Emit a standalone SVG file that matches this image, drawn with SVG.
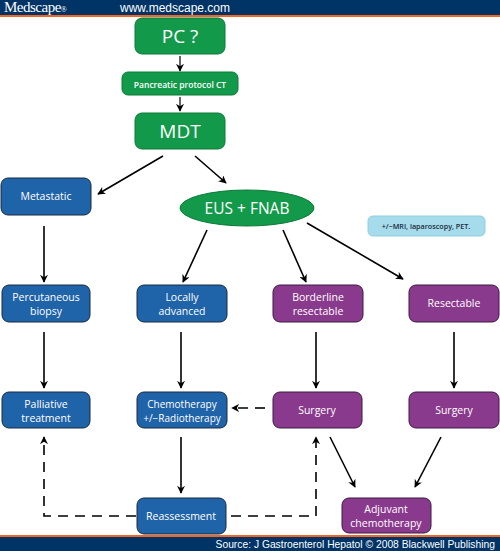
<svg xmlns="http://www.w3.org/2000/svg" width="500" height="551" viewBox="0 0 500 551">
<defs>
<style>
.t{font-family:"Open Sans","Noto Sans",sans-serif;fill:#fff;text-anchor:middle}
.g{fill:#129a4a;stroke:#0e7a3a;stroke-width:1}
.b{fill:#1f63a8;stroke:#1a2a40;stroke-width:1}
.p{fill:#8a3a8c;stroke:#3a1a40;stroke-width:1}
.s{stroke:#000;stroke-width:1.6;fill:none;marker-end:url(#ah)}
.d{stroke:#000;stroke-width:1.6;fill:none;stroke-dasharray:10,7;marker-end:url(#ah)}
.sm{stroke:#000;stroke-width:1.2;fill:none;marker-end:url(#ahs)}
</style>
<marker id="ah" viewBox="0 0 10 10" refX="9" refY="5" markerWidth="8" markerHeight="8" orient="auto" markerUnits="userSpaceOnUse">
<path d="M0,0 L10,5 L0,10 L3,5 z" fill="#000"/>
</marker>
<marker id="ahs" viewBox="0 0 10 10" refX="9" refY="5" markerWidth="8" markerHeight="8" orient="auto" markerUnits="userSpaceOnUse">
<path d="M0,0 L10,5 L0,10 L3,5 z" fill="#000"/>
</marker>
</defs>
<rect width="500" height="551" fill="#fff"/>
<g id="header">
<rect x="0" y="0" width="500" height="15" fill="#003366"/>
<rect x="0" y="15" width="500" height="2" fill="#f26522"/>
<text x="4" y="12" font-family="Liberation Serif,serif" font-size="15" fill="#fff" letter-spacing="-0.5">Medscape<tspan font-size="8">®</tspan></text>
<text x="120" y="12" font-family="Liberation Sans,Arial,sans-serif" font-size="12" fill="#fff">www.medscape.com</text>
</g>
<g id="footer">
<rect x="0" y="535" width="500" height="2" fill="#f26522"/>
<rect x="0" y="537" width="500" height="14" fill="#003366"/>
<text x="495" y="548" font-family="Liberation Sans,Arial,sans-serif" font-size="10.3" fill="#fff" text-anchor="end">Source: J Gastroenterol Hepatol © 2008 Blackwell Publishing</text>
</g>
<g id="connectors">
<line class="sm" x1="180" y1="56" x2="180" y2="71"/>
<line class="sm" x1="180" y1="97" x2="180" y2="111"/>
<line class="s" x1="163" y1="156" x2="98" y2="194"/>
<line class="s" x1="195" y1="156" x2="226" y2="183"/>
<line class="s" x1="44" y1="226" x2="44" y2="282"/>
<line class="s" x1="207" y1="230" x2="183" y2="282"/>
<line class="s" x1="283" y1="230" x2="306" y2="282"/>
<line class="s" x1="307" y1="223" x2="403" y2="279"/>
<line class="s" x1="44" y1="332" x2="44" y2="388"/>
<line class="s" x1="181" y1="332" x2="181" y2="388"/>
<line class="s" x1="316" y1="332" x2="316" y2="388"/>
<line class="s" x1="454" y1="332" x2="454" y2="388"/>
<line class="d" x1="265" y1="408" x2="232" y2="408" stroke-dasharray="6,5"/>
<line class="s" x1="181" y1="437" x2="181" y2="493"/>
<polyline class="d" points="136,516 44,516 44,437"/>
<polyline class="d" points="231,516 316,516 316,437"/>
<line class="s" x1="330" y1="437" x2="355" y2="487"/>
<line class="s" x1="441" y1="437" x2="415" y2="487"/>
</g>
<g id="pc"><rect class="g" x="135" y="18" width="90" height="36" rx="7"/><text class="t" x="180" y="43" font-size="19">PC ?</text></g>
<g id="ct"><rect class="g" x="122" y="72" width="116" height="23" rx="6"/><text class="t" x="180" y="87.5" font-size="8.5" font-weight="600">Pancreatic protocol CT</text></g>
<g id="mdt"><rect class="g" x="135" y="113" width="90" height="36" rx="7"/><text class="t" x="180" y="138" font-size="19">MDT</text></g>
<g id="metastatic"><rect class="b" x="1" y="178" width="90" height="37" rx="7"/><text class="t" x="46" y="200" font-size="10.5">Metastatic</text></g>
<g id="eus"><ellipse cx="247" cy="208" rx="67" ry="18" fill="#129a4a" stroke="#0e7a3a"/><text class="t" x="247" y="214" font-size="15.5">EUS + FNAB</text></g>
<g id="note"><rect x="368" y="216" width="117" height="20" rx="5" fill="#a6dbec" stroke="#8ecfe2"/><text x="426" y="229" font-family="Open Sans,Noto Sans,sans-serif" font-size="7.2" font-weight="600" fill="#1a2a3a" text-anchor="middle">+/−MRI, laparoscopy, PET.</text></g>
<g id="percutaneous"><rect class="b" x="2" y="285" width="88" height="37" rx="7"/><text class="t" x="46" y="301" font-size="10.5">Percutaneous</text><text class="t" x="46" y="315" font-size="10.5">biopsy</text></g>
<g id="locally"><rect class="b" x="137" y="285" width="90" height="37" rx="7"/><text class="t" x="182" y="301" font-size="10.5">Locally</text><text class="t" x="182" y="315" font-size="10.5">advanced</text></g>
<g id="borderline"><rect class="p" x="273" y="285" width="90" height="37" rx="7"/><text class="t" x="318" y="301" font-size="10.5">Borderline</text><text class="t" x="318" y="315" font-size="10.5">resectable</text></g>
<g id="resectable"><rect class="p" x="409" y="285" width="90" height="37" rx="7"/><text class="t" x="454" y="307" font-size="10.5">Resectable</text></g>
<g id="palliative"><rect class="b" x="2" y="392" width="88" height="36" rx="7"/><text class="t" x="46" y="408" font-size="10.5">Palliative</text><text class="t" x="46" y="422" font-size="10.5">treatment</text></g>
<g id="chemo"><rect class="b" x="137" y="392" width="90" height="36" rx="7"/><text class="t" x="182" y="408" font-size="10">Chemotherapy</text><text class="t" x="182" y="422" font-size="10">+/−Radiotherapy</text></g>
<g id="surgery1"><rect class="p" x="273" y="392" width="89" height="36" rx="7"/><text class="t" x="317" y="414" font-size="10.5">Surgery</text></g>
<g id="surgery2"><rect class="p" x="409" y="392" width="90" height="36" rx="7"/><text class="t" x="454" y="414" font-size="10.5">Surgery</text></g>
<g id="reassessment"><rect class="b" x="137" y="498" width="89" height="36" rx="7"/><text class="t" x="181" y="520" font-size="10.5">Reassessment</text></g>
<g id="adjuvant"><rect class="p" x="342" y="498" width="89" height="35" rx="7"/><text class="t" x="386" y="513" font-size="10.5">Adjuvant</text><text class="t" x="386" y="527" font-size="10.5">chemotherapy</text></g>
</svg>
